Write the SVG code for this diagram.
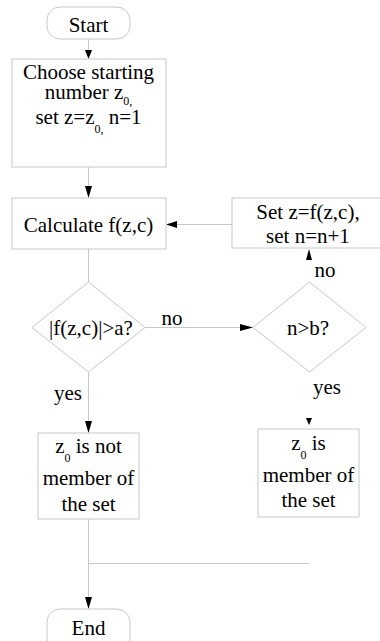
<svg xmlns="http://www.w3.org/2000/svg" width="380" height="641" viewBox="0 0 380 641">
<defs>
<style>
.box{fill:#fff;stroke:#c8c8c8;stroke-width:1}
.ln{fill:none;stroke:#c8c8c8;stroke-width:1}
.ah{fill:#000;stroke:none}
.t{font-family:'Liberation Serif','Times New Roman',serif;font-size:21px;fill:#000;text-anchor:middle}
.sub{font-size:12px}
</style>
</defs>
<rect width="380" height="641" fill="#fff"/>
<g id="connectors">
<line class="ln" x1="88.5" y1="39" x2="88.5" y2="52"/>
<line class="ln" x1="88.5" y1="167" x2="88.5" y2="188"/>
<line class="ln" x1="176" y1="224.5" x2="232" y2="224.5"/>
<line class="ln" x1="88.5" y1="249" x2="88.5" y2="282"/>
<line class="ln" x1="145" y1="327.5" x2="242" y2="327.5"/>
<line class="ln" x1="88.5" y1="372" x2="88.5" y2="424"/>
<line class="ln" x1="88.5" y1="519" x2="88.5" y2="599"/>
<line class="ln" x1="88.5" y1="563.5" x2="309" y2="563.5"/>
<polygon class="ah" points="85,50 92,50 88.5,59"/>
<polygon class="ah" points="85,186 92,186 88.5,198"/>
<polygon class="ah" points="177,221 177,228 166,224.5"/>
<polygon class="ah" points="240,324 240,331 253,327.5"/>
<polygon class="ah" points="306,260 312,260 309,249"/>
<polygon class="ah" points="85,421 92,421 88.5,433"/>
<polygon class="ah" points="306,418 312,418 309,425"/>
<polygon class="ah" points="85,597 92,597 88.5,609"/>
<text class="t" x="172" y="325">no</text>
<text class="t" x="325" y="277">no</text>
<text class="t" x="68" y="400">yes</text>
<text class="t" x="327" y="394">yes</text>
</g>
<g id="start">
<rect class="box" x="47" y="7" width="83" height="32" rx="13"/>
<text class="t" x="88.5" y="32">Start</text>
</g>
<g id="init">
<rect class="box" x="12" y="59" width="154" height="108"/>
<text class="t" x="88.5" y="79">Choose starting</text>
<text class="t" x="88.5" y="99">number z<tspan class="sub" dy="6">0,</tspan></text>
<text class="t" x="88.5" y="124">set z=z<tspan class="sub" dy="9">0,</tspan><tspan dy="-9"> n=1</tspan></text>
</g>
<g id="calc">
<rect class="box" x="12" y="198" width="154" height="51"/>
<text class="t" x="88.5" y="232">Calculate f(z,c)</text>
</g>
<g id="update">
<rect class="box" x="232" y="198" width="160" height="50"/>
<text class="t" x="308" y="219">Set z=f(z,c),</text>
<text class="t" x="308" y="243">set n=n+1</text>
</g>
<g id="test1">
<polygon class="box" points="88.5,282 145,327.5 88.5,372 32,327.5"/>
<text class="t" x="91" y="335">|f(z,c)|&gt;a?</text>
</g>
<g id="test2">
<polygon class="box" points="309.5,282 366,327.5 309.5,372 253,327.5"/>
<text class="t" x="308" y="335">n&gt;b?</text>
</g>
<g id="notmember">
<rect class="box" x="38" y="433" width="101" height="86"/>
<text class="t" x="88.5" y="453">z<tspan class="sub" dy="9">0</tspan><tspan dy="-9"> is not</tspan></text>
<text class="t" x="88.5" y="485">member of</text>
<text class="t" x="88.5" y="511">the set</text>
</g>
<g id="member">
<rect class="box" x="258" y="429" width="101" height="88"/>
<text class="t" x="308.5" y="450">z<tspan class="sub" dy="9">0</tspan><tspan dy="-9"> is</tspan></text>
<text class="t" x="308.5" y="482">member of</text>
<text class="t" x="308.5" y="507">the set</text>
</g>
<g id="end">
<rect class="box" x="47" y="609" width="83" height="50" rx="13"/>
<text class="t" x="88.5" y="635">End</text>
</g>
</svg>
